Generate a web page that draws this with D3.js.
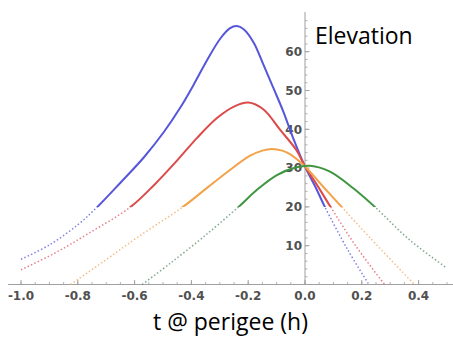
<!DOCTYPE html>
<html>
<head>
<meta charset="utf-8">
<script src="https://cdn.jsdelivr.net/npm/d3@7"></script>
<style>
  html, body { margin: 0; padding: 0; background: #fff; }
  svg { display: block; }
</style>
</head>
<body>
<script>
// ---- data ----
const xTicks = [-1.0, -0.8, -0.6, -0.4, -0.2, 0.0, 0.2, 0.4];
const xTickLabels = ["-1.0", "-0.8", "-0.6", "-0.4", "-0.2", "0.0", "0.2", "0.4"];
const yTicks = [10, 20, 30, 40, 50, 60];
const yTickLabels = ["10", "20", "30", "40", "50", "60"];
const solidThreshold = 20;

const blueT    = [-1.0, -0.9, -0.8, -0.731, -0.649, -0.567, -0.497, -0.439, -0.392, -0.345, -0.298, -0.265, -0.24, -0.216, -0.181, -0.146, -0.111, -0.076, -0.041, 0.0, 0.041, 0.07, 0.15, 0.225];
const blueElev = [6.5, 10.2, 15.4, 20.0, 26.3, 32.8, 39.3, 45.6, 51.5, 57.8, 63.4, 66.0, 66.6, 65.8, 62.4, 56.6, 50.6, 44.5, 37.6, 30.4, 24.5, 20.0, 9.0, 0.0];

const redT     = [-1.0, -0.883, -0.766, -0.614, -0.532, -0.45, -0.38, -0.31, -0.252, -0.199, -0.146, -0.088, -0.029, 0.0, 0.041, 0.09, 0.181, 0.28];
const redElev  = [3.8, 8.0, 13.0, 20.0, 25.6, 32.0, 37.8, 42.9, 45.8, 46.9, 45.1, 39.9, 34.5, 30.4, 25.8, 20.0, 9.7, 0.0];

const orangeT    = [-0.825, -0.708, -0.591, -0.43, -0.345, -0.27, -0.193, -0.15, -0.117, -0.08, -0.053, 0.0, 0.064, 0.129, 0.228, 0.385];
const orangeElev = [0.0, 6.0, 12.1, 20.0, 24.9, 29.2, 33.2, 34.5, 34.9, 34.5, 33.6, 30.4, 25.2, 20.0, 12.1, 0.0];

const greenT    = [-0.573, -0.474, -0.357, -0.234, -0.169, -0.099, -0.03, 0.018, 0.088, 0.17, 0.246, 0.368, 0.5];
const greenElev = [0.0, 5.5, 12.3, 20.0, 24.4, 28.2, 30.2, 30.6, 29.1, 24.8, 20.0, 11.5, 4.2];

const seriesNames  = ["blue", "red", "orange", "green"];
const seriesT      = [blueT, redT, orangeT, greenT];
const seriesElev   = [blueElev, redElev, orangeElev, greenElev];
const solidColors  = ["#5656dc", "#dc4a4a", "#f4a24a", "#3f9640"];
const dottedColors = ["#6a6ae0", "#e06a78", "#f7b070", "#6a9a78"];

// ---- layout ----
const W = 453, H = 337;
const x = d3.scaleLinear().domain([0, 0.4]).range([305, 418.6]);
const y = d3.scaleLinear().domain([0, 60]).range([284.5, 51.7]);

const svg = d3.select("body").append("svg").attr("width", W).attr("height", H);

// clip regions: solid above threshold, dotted below
const defs = svg.append("defs");
defs.append("clipPath").attr("id", "above")
  .append("rect").attr("x", 0).attr("y", 0).attr("width", W).attr("height", y(solidThreshold));
defs.append("clipPath").attr("id", "below")
  .append("rect").attr("x", 0).attr("y", y(solidThreshold)).attr("width", W).attr("height", H - y(solidThreshold));

// ---- axes ----
const axisColor = "#a0a0a0";
const ax = svg.append("g");
ax.append("line").attr("x1", 8).attr("x2", W).attr("y1", y(0)).attr("y2", y(0))
  .attr("stroke", axisColor).attr("stroke-width", 1);
ax.append("line").attr("x1", x(0)).attr("x2", x(0)).attr("y1", y(0)).attr("y2", 12)
  .attr("stroke", axisColor).attr("stroke-width", 1);

const xMinor = d3.range(-1.0, 0.5001, 0.05);
ax.selectAll(".xminor").data(xMinor).enter().append("line")
  .attr("x1", d => x(d)).attr("x2", d => x(d))
  .attr("y1", y(0)).attr("y2", y(0) - 2.5)
  .attr("stroke", axisColor).attr("stroke-width", 0.8);
ax.selectAll(".xmajor").data(xTicks).enter().append("line")
  .attr("x1", d => x(d)).attr("x2", d => x(d))
  .attr("y1", y(0)).attr("y2", y(0) - 4.5)
  .attr("stroke", axisColor).attr("stroke-width", 1);

const yMinor = d3.range(0, 68.001, 2);
ax.selectAll(".yminor").data(yMinor).enter().append("line")
  .attr("x1", x(0)).attr("x2", x(0) + 2.5)
  .attr("y1", d => y(d)).attr("y2", d => y(d))
  .attr("stroke", axisColor).attr("stroke-width", 0.8);
ax.selectAll(".ymajor").data(yTicks).enter().append("line")
  .attr("x1", x(0)).attr("x2", x(0) + 4.5)
  .attr("y1", d => y(d)).attr("y2", d => y(d))
  .attr("stroke", axisColor).attr("stroke-width", 1);

const labelFont = "DejaVu Sans, Verdana, sans-serif";
ax.selectAll(".xlab").data(xTicks).enter().append("text")
  .attr("x", d => x(d)).attr("y", 300)
  .attr("text-anchor", "middle")
  .attr("font-family", labelFont).attr("font-size", 12).attr("font-weight", "bold")
  .attr("fill", "#505050")
  .text((d, i) => xTickLabels[i]);

ax.selectAll(".ylab").data(yTicks).enter().append("text")
  .attr("x", x(0) - 3).attr("y", d => y(d) + 4.3)
  .attr("text-anchor", "end")
  .attr("font-family", labelFont).attr("font-size", 12).attr("font-weight", "bold")
  .attr("fill", "#505050")
  .text((d, i) => yTickLabels[i]);

// ---- curves ----
const line = d3.line().x(d => x(d[0])).y(d => y(d[1])).curve(d3.curveCatmullRom.alpha(0.5));

seriesNames.forEach((name, i) => {
  const pts = seriesT[i].map((t, j) => [t, seriesElev[i][j]]);
  svg.append("path").datum(pts)
    .attr("d", line)
    .attr("fill", "none")
    .attr("stroke", dottedColors[i])
    .attr("stroke-width", 1.5)
    .attr("stroke-dasharray", "1.5 2.2")
    .attr("opacity", 0.85)
    .attr("clip-path", "url(#below)");
  svg.append("path").datum(pts)
    .attr("d", line)
    .attr("fill", "none")
    .attr("stroke", solidColors[i])
    .attr("stroke-width", 2)
    .attr("clip-path", "url(#above)");
});

// ---- titles ----
svg.append("text")
  .attr("x", 315).attr("y", 44)
  .attr("font-family", "Open Sans, sans-serif").attr("font-size", 23)
  .attr("fill", "#000")
  .text("Elevation");

svg.append("text")
  .attr("x", 230.5).attr("y", 330)
  .attr("text-anchor", "middle")
  .attr("font-family", "Open Sans, sans-serif").attr("font-size", 23)
  .attr("fill", "#000")
  .text("t @ perigee (h)");
</script>
</body>
</html>
